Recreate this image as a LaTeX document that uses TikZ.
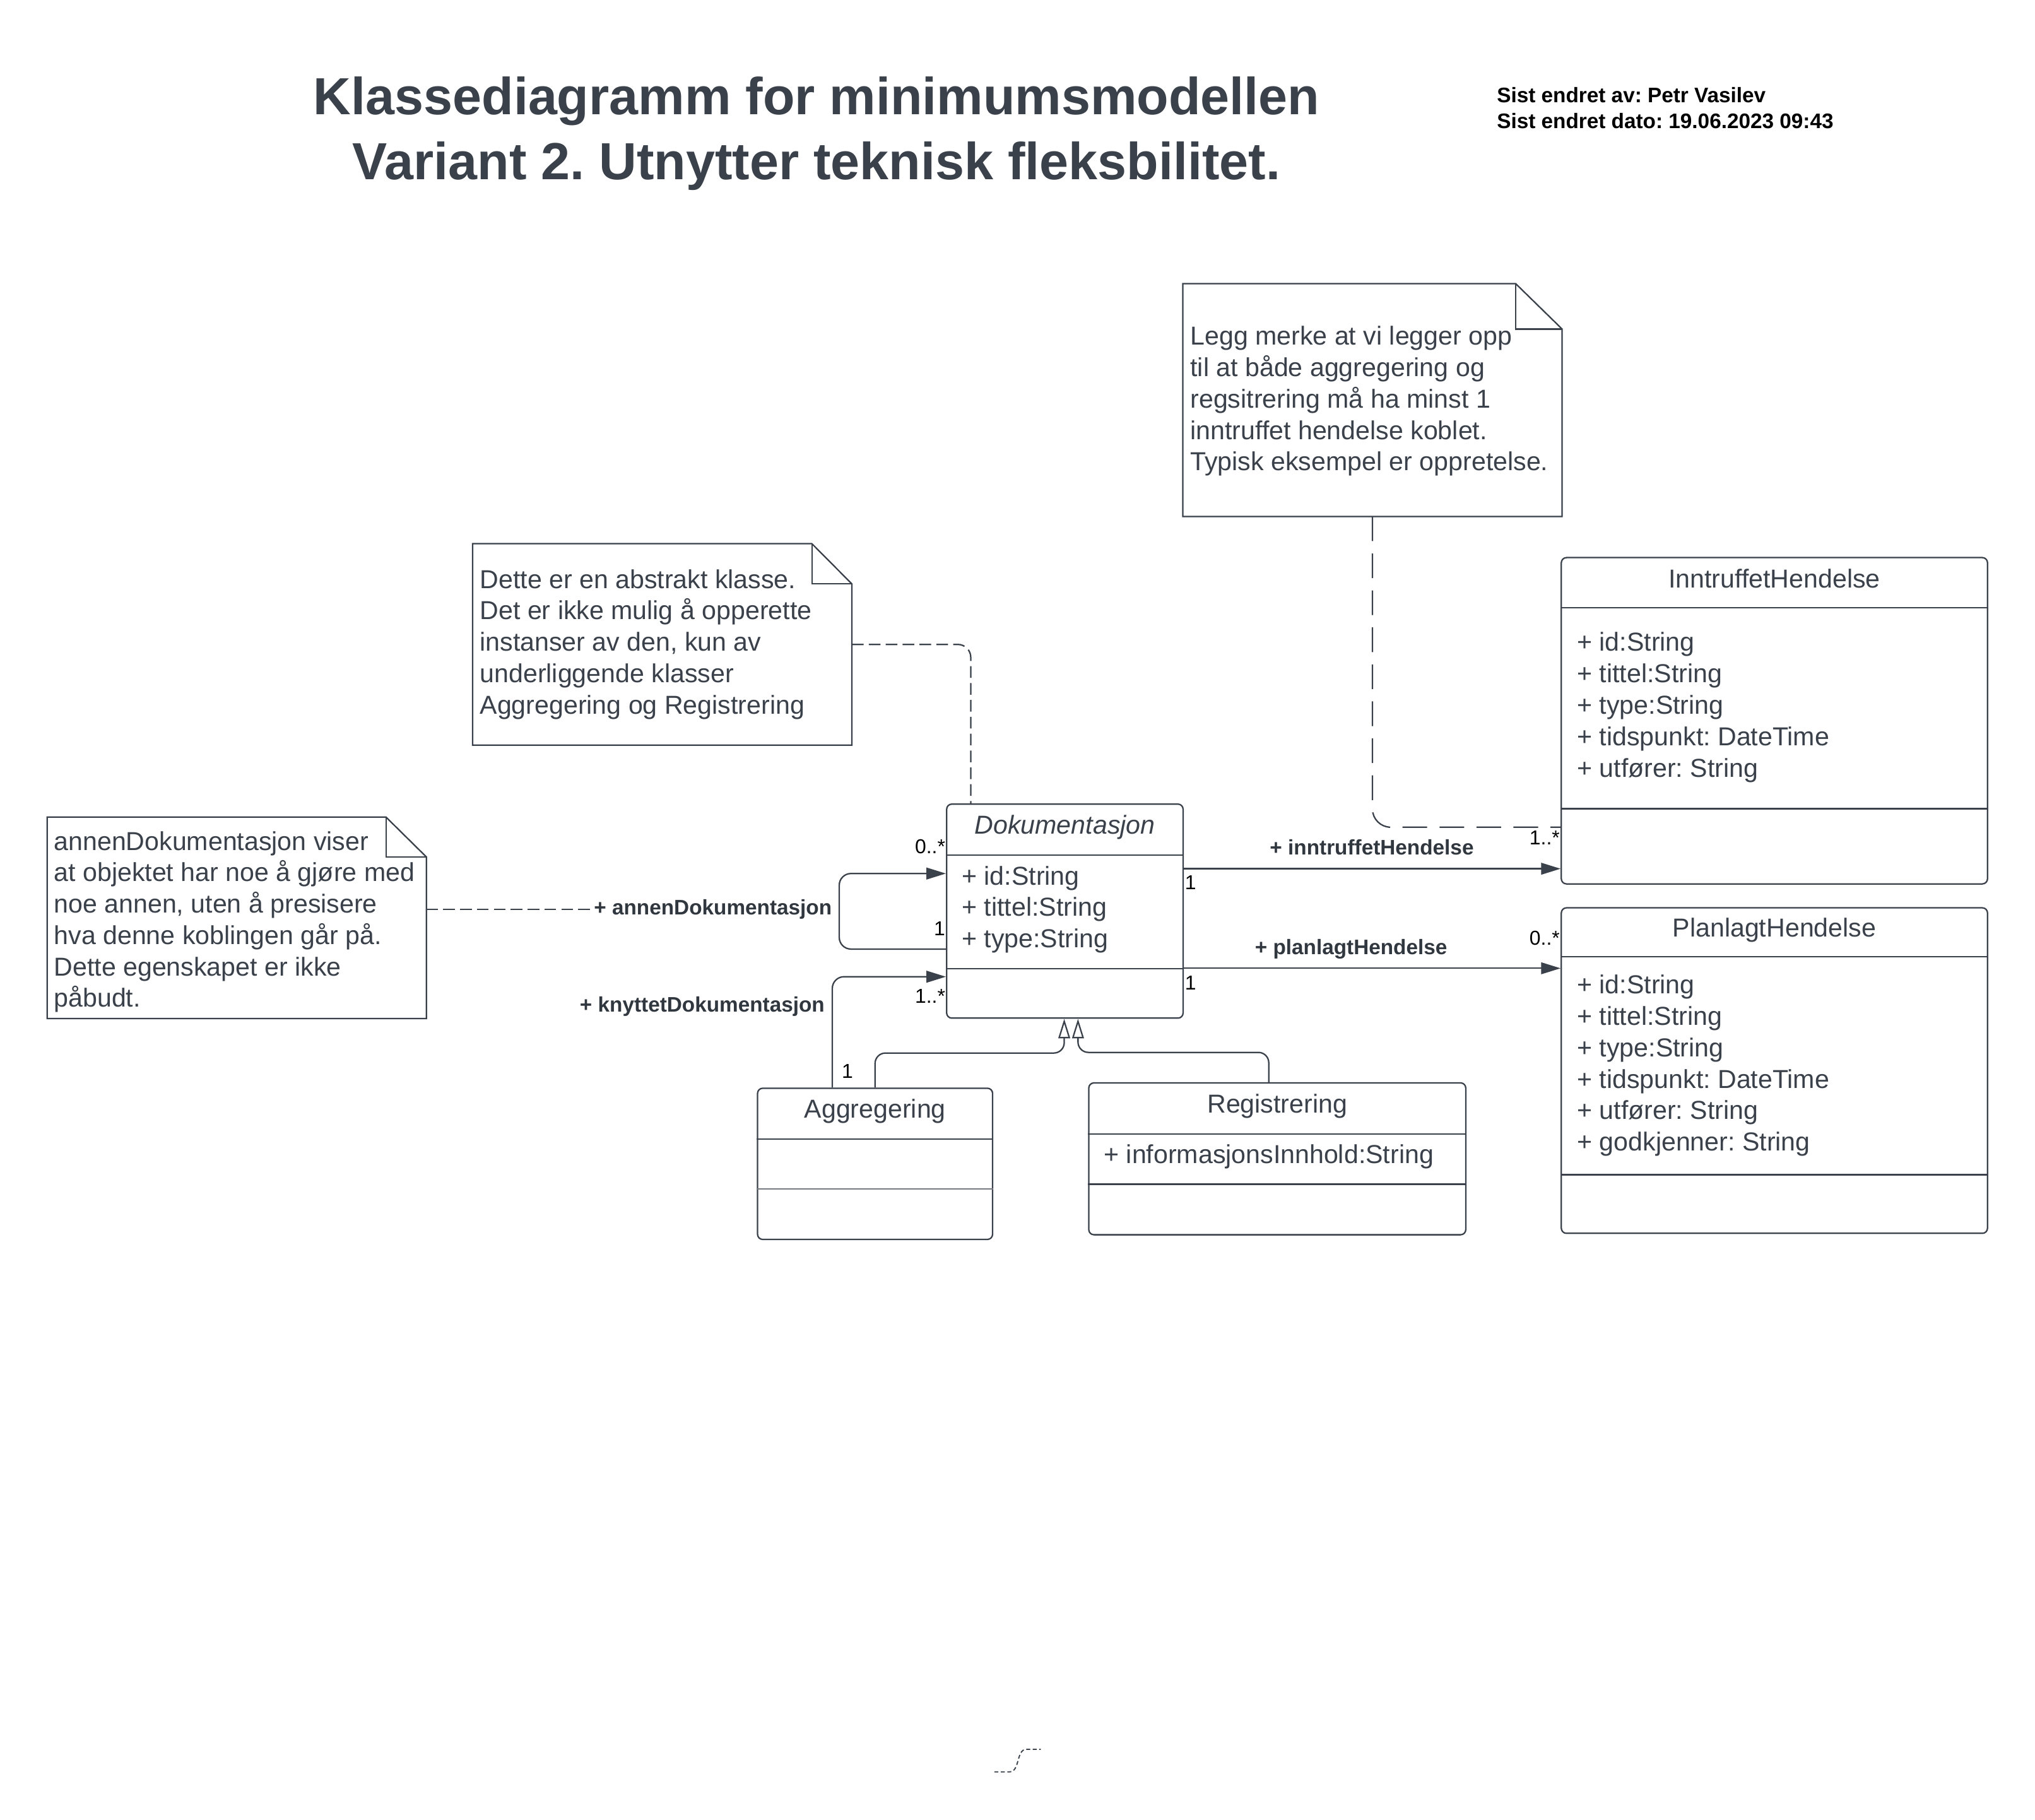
\documentclass[tikz,border=0pt]{standalone}
\usepackage{fontspec}
\setmainfont{Liberation Sans}
\usetikzlibrary{arrows.meta}
\definecolor{ink}{RGB}{58,65,74}
\frenchspacing
\begin{document}
\begin{tikzpicture}[x=1pt,y=-1pt,
  classbox/.style={draw=ink, line width=1.1pt, rounded corners=4pt, fill=white, inner sep=0pt, rectangle},
  notebox/.style={inner sep=0pt, rectangle},
  noteline/.style={draw=ink, line width=1.1pt, fill=white},
  divider/.style={draw=ink, line width=1.1pt},
  thindivider/.style={draw=ink!70, line width=0.6pt},
  body/.style={font=\fontsize{20}{24.2}\selectfont, text=ink, inner sep=0pt, align=left, anchor=north west},
  ctitle/.style={font=\fontsize{20}{24.2}\selectfont, text=ink, inner sep=0pt, anchor=base},
  lbl/.style={font=\bfseries\fontsize{16.2}{19}\selectfont, text=ink!85!black, inner sep=0pt},
  mult/.style={font=\fontsize{15.5}{18}\selectfont, text=black, inner sep=0pt},
  assoc/.style={draw=ink, line width=1.1pt, rounded corners=9pt, -{Triangle[length=15pt,width=9pt]}},
  gen/.style={draw=ink, line width=1.1pt, rounded corners=8pt, -{Triangle[open,length=15pt,width=9pt,fill=white]}},
  notelink/.style={draw=ink, line width=1.1pt, dash pattern=on 9pt off 4pt, rounded corners=10pt}
]
\fill[white] (0,0) rectangle (1568,1402);
\useasboundingbox (0,0) rectangle (1568,1402);

% title and meta
\node[font=\bfseries\fontsize{40.2}{50}\selectfont, text=ink, inner sep=0pt, align=center, anchor=north] (title) at (629.2,53)
  {\strut Klassediagramm for minimumsmodellen\\Variant 2. Utnytter teknisk fleksbilitet.};
\node[font=\bfseries\fontsize{16.2}{20.3}\selectfont, text=black, inner sep=0pt, align=left, anchor=north west] (meta) at (1153.2,64.4)
  {\strut Sist endret av: Petr Vasilev\\Sist endret dato: 19.06.2023 09:43};

% notes
\node[notebox, minimum width=291.8pt, minimum height=179pt] (n1) at (1057.5,308.2) {};
\draw[noteline] (n1.north west) -- ([xshift=-35.8pt]n1.north east) -- ([yshift=-35pt]n1.north east) -- (n1.south east) -- (n1.south west) -- cycle;
\draw[noteline, fill=none] ([xshift=-35.8pt]n1.north east) |- ([yshift=-35pt]n1.north east);
\node[body] (n1t) at (917,248.7) {\strut Legg merke at vi legger opp\\til at både aggregering og\\regsitrering må ha minst 1\\inntruffet hendelse koblet.\\Typisk eksempel er oppretelse.};

\node[notebox, minimum width=291.8pt, minimum height=154.8pt] (n2) at (510.3,496.5) {};
\draw[noteline] (n2.north west) -- ([xshift=-30.8pt]n2.north east) -- ([yshift=-31pt]n2.north east) -- (n2.south east) -- (n2.south west) -- cycle;
\draw[noteline, fill=none] ([xshift=-30.8pt]n2.north east) |- ([yshift=-31pt]n2.north east);
\node[body] (n2t) at (369.6,436.1) {\strut Dette er en abstrakt klasse.\\Det er ikke mulig å opperette\\instanser av den, kun av\\underliggende klasser\\Aggregering og Registrering};

\node[notebox, minimum width=291.7pt, minimum height=154.8pt] (n3) at (182.45,707.1) {};
\draw[noteline] (n3.north west) -- ([xshift=-31.1pt]n3.north east) -- ([yshift=-30.7pt]n3.north east) -- (n3.south east) -- (n3.south west) -- cycle;
\draw[noteline, fill=none] ([xshift=-31.1pt]n3.north east) |- ([yshift=-30.7pt]n3.north east);
\node[body] (n3t) at (41.4,637.8) {\strut annenDokumentasjon viser\\at objektet har noe å gjøre med\\noe annen, uten å presisere\\hva denne koblingen går på.\\Dette egenskapet er ikke\\påbudt.};

% classes
\node[classbox, minimum width=182.2pt, minimum height=164.9pt] (dok) at (820.5,701.95) {};
\draw[divider] (dok.west |- 0,658.8) -- (dok.east |- 0,658.8);
\draw[divider] (dok.west |- 0,746.3) -- (dok.east |- 0,746.3);
\node[ctitle, font=\itshape\fontsize{20}{24.2}\selectfont] (dokt) at (820.5,642.6) {Dokumentasjon};
\node[body] (doka) at (740.9,664.6) {\strut + id:String\\+ tittel:String\\+ type:String};

\node[classbox, minimum width=328.4pt, minimum height=251.4pt] (ih) at (1367.2,555.3) {};
\draw[divider] (ih.west |- 0,468.2) -- (ih.east |- 0,468.2);
\draw[divider] (ih.west |- 0,623) -- (ih.east |- 0,623);
\node[ctitle] (iht) at (1367.2,452.9) {InntruffetHendelse};
\node[body] (iha) at (1215,484.6) {\strut + id:String\\+ tittel:String\\+ type:String\\+ tidspunkt: DateTime\\+ utfører: String};

\node[classbox, minimum width=328.4pt, minimum height=250.8pt] (ph) at (1367.2,824.8) {};
\draw[divider] (ph.west |- 0,737) -- (ph.east |- 0,737);
\draw[divider] (ph.west |- 0,905) -- (ph.east |- 0,905);
\node[ctitle] (pht) at (1367.2,722) {PlanlagtHendelse};
\node[body] (pha) at (1215,748.5) {\strut + id:String\\+ tittel:String\\+ type:String\\+ tidspunkt: DateTime\\+ utfører: String\\+ godkjenner: String};

\node[classbox, minimum width=181.1pt, minimum height=116.5pt] (agg) at (674.25,896.65) {};
\draw[divider] (agg.west |- 0,877.6) -- (agg.east |- 0,877.6);
\draw[thindivider] (agg.west |- 0,916) -- (agg.east |- 0,916);
\node[ctitle] (aggt) at (674.25,861.4) {Aggregering};

\node[classbox, minimum width=290.5pt, minimum height=117pt] (reg) at (984.15,892.8) {};
\draw[divider] (reg.west |- 0,873.6) -- (reg.east |- 0,873.6);
\draw[divider] (reg.west |- 0,912.4) -- (reg.east |- 0,912.4);
\node[ctitle] (regt) at (984.15,857.3) {Registrering};
\node[ctitle, anchor=base west] (rega) at (850.4,896.2) {+ informasjonsInnhold:String};

% labels
\node[lbl, anchor=base west] (lannen) at (457.5,704.8) {+ annenDokumentasjon};
\node[lbl, anchor=base west] (lknyt) at (446.6,779.8) {+ knyttetDokumentasjon};
\node[lbl, anchor=base] (linn) at (1057,658.5) {+ inntruffetHendelse};
\node[lbl, anchor=base] (lplan) at (1041,735.5) {+ planlagtHendelse};

% multiplicities
\node[mult, anchor=base east] (m1) at (728.5,657.8) {0..*};
\node[mult, anchor=base east] (m2) at (728.5,721) {1};
\node[mult, anchor=base east] (m3) at (728.5,773) {1..*};
\node[mult, anchor=base west] (m4) at (912.8,685.5) {1};
\node[mult, anchor=base west] (m5) at (912.8,762.4) {1};
\node[mult, anchor=base west] (m6) at (648.4,830.6) {1};
\node[mult, anchor=base east] (m7) at (1202,651) {1..*};
\node[mult, anchor=base east] (m8) at (1202,728.3) {0..*};

% connectors
\draw[assoc] (dok.west |- 0,731.2) -| ([xshift=-82.2pt]dok.west) |- (dok.west |- 0,673);
\draw[assoc] ([xshift=-32.95pt]agg.north) |- (dok.west |- 0,752.5);
\draw[assoc] (dok.east |- 0,669.3) -- (ih.west |- 0,669.3);
\draw[assoc] (dok.east |- 0,746) -- (ph.west |- 0,746);
\draw[gen] (agg.north) -- (agg.north |- 0,811.3) -| ([xshift=-0.5pt]dok.south);
\draw[gen] ([xshift=-6.55pt]reg.north) -- ([xshift=-6.55pt]reg.north |- 0,810.8) -| ([xshift=10.1pt]dok.south);

\draw[notelink, dash pattern=on 19pt off 9.5pt, rounded corners=14pt] (n1.south) |- (ih.west |- 0,637.3);
\draw[notelink] (n2.east |- 0,496.5) -| ([xshift=-72.5pt]dok.north);
\draw[notelink] (n3.east |- lannen.west) -- (lannen.west);

% stray squiggle
\coordinate (sq1) at (766.2,1365.1);
\coordinate (sq2) at (801.9,1347.7);
\draw[ink, line width=0.9pt, dash pattern=on 3pt off 2pt] (sq1) -- (777.9,1365.1) .. controls (786,1365.1) and (782.8,1347.7) .. (790.9,1347.7) -- (sq2);
\end{tikzpicture}
\end{document}
